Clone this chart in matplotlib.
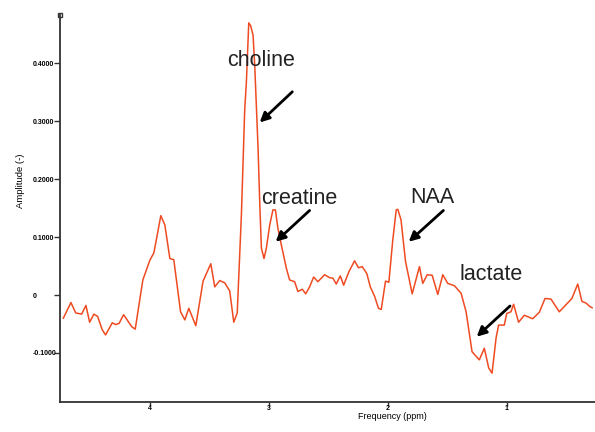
import numpy as np
import matplotlib
matplotlib.use("Agg")
import matplotlib.pyplot as plt

# ---------------------------------------------------------
# Spectrum (ppm, amplitude)
# ---------------------------------------------------------

ppm = [4.727, 4.663, 4.623, 4.573, 4.537, 4.506, 4.470, 4.439, 4.400, 4.372,
       4.316, 4.288, 4.258, 4.221, 4.151, 4.123, 4.059, 4.000, 3.966, 3.908,
       3.874, 3.832, 3.799, 3.742, 3.706, 3.673, 3.614, 3.553, 3.488, 3.455,
       3.413, 3.371, 3.329, 3.295, 3.266, 3.231, 3.203, 3.189, 3.169, 3.153,
       3.133, 3.119, 3.091, 3.077, 3.063, 3.041, 3.021, 2.993, 2.966, 2.945,
       2.924, 2.895, 2.853, 2.826, 2.784, 2.756, 2.719, 2.691, 2.658, 2.624,
       2.588, 2.532, 2.490, 2.462, 2.434, 2.400, 2.372, 2.328, 2.280, 2.247,
       2.216, 2.177, 2.148, 2.112, 2.079, 2.056, 2.020, 1.992, 1.959, 1.930,
       1.917, 1.890, 1.852, 1.796, 1.735, 1.707, 1.670, 1.628, 1.581, 1.539,
       1.497, 1.441, 1.385, 1.343, 1.293, 1.232, 1.190, 1.153, 1.125, 1.091,
       1.070, 1.022, 1.002, 0.966, 0.944, 0.902, 0.854, 0.784, 0.728, 0.680,
       0.630, 0.560, 0.491, 0.454, 0.405, 0.370, 0.335, 0.303, 0.284]

amplitude = [-0.040, -0.013, -0.031, -0.033, -0.018, -0.047, -0.033, -0.037, -0.060, -0.069,
             -0.048, -0.051, -0.049, -0.034, -0.055, -0.059, 0.026, 0.060, 0.073, 0.137,
             0.121, 0.063, 0.061, -0.029, -0.043, -0.023, -0.053, 0.024, 0.054, 0.014,
             0.025, 0.021, 0.007, -0.047, -0.031, 0.138, 0.320, 0.368, 0.470, 0.465,
             0.449, 0.397, 0.254, 0.161, 0.081, 0.063, 0.081, 0.121, 0.147, 0.147,
             0.115, 0.086, 0.046, 0.026, 0.023, 0.006, 0.010, 0.002, 0.014, 0.031,
             0.023, 0.035, 0.030, 0.029, 0.019, 0.033, 0.017, 0.040, 0.059, 0.047,
             0.049, 0.037, 0.014, -0.002, -0.023, -0.025, 0.024, 0.022, 0.095, 0.147,
             0.148, 0.130, 0.058, 0.002, 0.049, 0.020, 0.035, 0.034, 0.001, 0.035,
             0.020, 0.016, 0.003, -0.029, -0.098, -0.112, -0.092, -0.126, -0.135, -0.074,
             -0.052, -0.052, -0.032, -0.029, -0.016, -0.047, -0.035, -0.041, -0.030, -0.006,
             -0.007, -0.029, -0.014, -0.006, 0.019, -0.011, -0.014, -0.020, -0.022]

# peak labels: name, text position, arrow tail, arrow tip
peak_names = ["choline", "creatine", "NAA", "lactate"]
text_pos = [(3.065, 0.3955), (2.746, 0.157), (1.630, 0.159), (1.131, 0.026)]
arrow_tail = [(2.803, 0.351), (2.658, 0.146), (1.534, 0.146), (0.974, -0.019)]
arrow_tip = [(3.077, 0.298), (2.943, 0.092), (1.825, 0.092), (1.254, -0.072)]

y_ticks = [-0.1, 0.0, 0.1, 0.2, 0.3, 0.4]
y_tick_labels = ["-0.1000", "0", "0.1000", "0.2000", "0.3000", "0.4000"]
x_ticks = [4, 3, 2, 1]

# ---------------------------------------------------------
# Figure
# ---------------------------------------------------------

plt.rcParams["font.family"] = ["Liberation Sans", "DejaVu Sans"]

fig = plt.figure(figsize=(5.95, 4.32), dpi=100)
ax = fig.add_axes([60/595, 1 - 402/432, 535/595, 387/432])

ax.plot(ppm, amplitude, color="#ee4b22", lw=1.1)

ax.set_xlim(4.755, 0.26)
ax.set_ylim(-0.1848, 0.4836)

for side in ["top", "right"]:
    ax.spines[side].set_visible(False)
for side in ["left", "bottom"]:
    ax.spines[side].set_color("#333333")
    ax.spines[side].set_linewidth(1.3)

ax.set_yticks(y_ticks)
ax.set_yticklabels(y_tick_labels, fontweight="bold")
ax.tick_params(axis="y", direction="out", length=4, width=1, color="#333333",
               labelsize=5, pad=15.4)
for lab in ax.get_yticklabels():
    lab.set_horizontalalignment("left")

ax.set_xticks(x_ticks)
ax.set_xticklabels([str(t) for t in x_ticks], fontweight="bold")
ax.tick_params(axis="x", direction="out", length=3, width=1, color="#333333",
               labelsize=5, pad=-1)

ax.set_xlabel("Frequency (ppm)", fontsize=6.5)
ax.xaxis.set_label_coords(0.622, -0.027)
ax.set_ylabel("Amplitude (-)", fontsize=6.8)
ax.yaxis.set_label_coords(-0.066, 0.572)

# small square at the top of the y axis
ax.plot([0], [1], marker="s", ms=3.5, mfc="white", mec="#333333", mew=1,
        transform=ax.transAxes, clip_on=False)

for name, tp, tail, tip in zip(peak_names, text_pos, arrow_tail, arrow_tip):
    ax.text(tp[0], tp[1], name, ha="center", va="baseline", fontsize=15.5,
            color="#222222")
    ax.annotate("", xy=tip, xytext=tail,
                arrowprops=dict(arrowstyle="-|>", color="black", lw=2,
                                mutation_scale=14, shrinkA=0, shrinkB=0))

fig.savefig("out.png", dpi=100)
